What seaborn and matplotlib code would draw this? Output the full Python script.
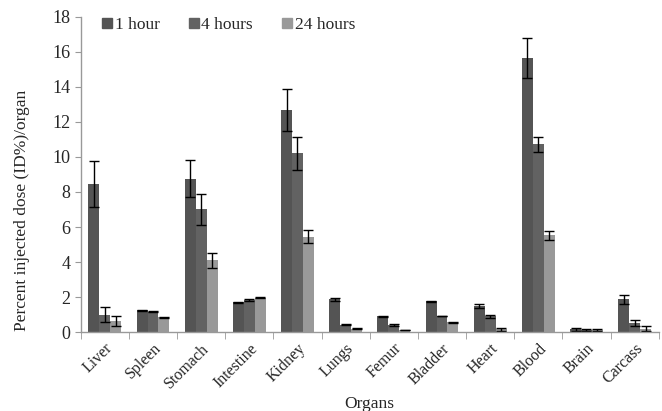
import numpy as np
import pandas as pd
import matplotlib
matplotlib.use("Agg")
import matplotlib.pyplot as plt
import seaborn as sns

organs = ["Liver", "Spleen", "Stomach", "Intestine", "Kidney", "Lungs",
          "Femur", "Bladder", "Heart", "Blood", "Brain", "Carcass"]
series = ["1 hour", "4 hours", "24 hours"]
v1h = [8.45, 1.25, 8.75, 1.70, 12.70, 1.87, 0.90, 1.76, 1.50, 15.65, 0.15, 1.87]
e1h = [1.30, 0.03, 1.05, 0.03, 1.20, 0.08, 0.03, 0.03, 0.12, 1.17, 0.10, 0.27]
v4h = [1.00, 1.15, 7.00, 1.85, 10.20, 0.42, 0.38, 0.92, 0.90, 10.73, 0.12, 0.52]
e4h = [0.45, 0.03, 0.90, 0.05, 0.92, 0.03, 0.06, 0.02, 0.08, 0.42, 0.08, 0.17]
v24h = [0.62, 0.85, 4.10, 1.97, 5.45, 0.20, 0.12, 0.55, 0.15, 5.52, 0.10, 0.20]
e24h = [0.28, 0.02, 0.42, 0.03, 0.38, 0.03, 0.02, 0.02, 0.07, 0.28, 0.06, 0.13]
colors = ["#545454", "#626262", "#999999"]

df = pd.DataFrame({
    "Organ": organs * 3,
    "Time": np.repeat(series, len(organs)),
    "Value": v1h + v4h + v24h,
    "Err": e1h + e4h + e24h,
})

sns.set_style("white")
plt.rcParams["font.family"] = ["Liberation Serif", "DejaVu Serif"]

fig = plt.figure(figsize=(6.62, 4.11), dpi=100)
ax = fig.add_axes([0.122, 0.192, 0.873, 0.767])

sns.barplot(data=df, x="Organ", y="Value", hue="Time", order=organs,
            hue_order=series, palette=colors, width=0.68, errorbar=None,
            saturation=1, ax=ax, linewidth=0)

# error bars at bar centres
for i, s in enumerate(series):
    cont = ax.containers[i]
    xs = [p.get_x() + p.get_width() / 2 for p in cont.patches]
    sub = df[df["Time"] == s]
    ax.errorbar(xs, sub["Value"].values, yerr=sub["Err"].values, fmt="none",
                ecolor="black", elinewidth=1.0, capsize=3.5, capthick=1.0)

ax.set_ylim(0, 18)
ax.set_yticks(np.arange(0, 19, 2))
ax.set_xlim(-0.5, len(organs) - 0.5)
ax.set_xticks(np.arange(len(organs)))
ax.set_xticklabels(organs, rotation=45, ha="right", rotation_mode="anchor", fontsize=11.5)
ax.set_xticks(np.arange(len(organs) + 1) - 0.5, minor=True)
ax.tick_params(axis="x", which="major", length=0, pad=6)
ax.tick_params(axis="x", which="minor", length=5, color="#999999", direction="out", bottom=True)
ax.tick_params(axis="y", length=4, color="#999999", direction="out", left=True, labelsize=13)
for s in ["top", "right"]:
    ax.spines[s].set_visible(False)
for s in ["left", "bottom"]:
    ax.spines[s].set_color("#999999")
    ax.spines[s].set_linewidth(1.0)

ax.set_xlabel("Organs", fontsize=12.5)
ax.xaxis.set_label_coords(0.5, -0.228)
ax.xaxis.label.set_va("center")
ax.set_ylabel("Percent injected dose (ID%)/organ", fontsize=12.5)
ax.yaxis.set_label_coords(-0.102, 0.385)
ax.yaxis.label.set_va("center")

handles = [plt.Line2D([0], [0], marker="s", linestyle="none", markersize=7,
                      markerfacecolor=c, markeredgecolor=c) for c in colors]
ax.legend(handles, series, loc="upper left", ncol=3, frameon=False,
          fontsize=12.5, handletextpad=0.1, handlelength=0.7, columnspacing=1.6,
          bbox_to_anchor=(0.008, 1.05))

fig.savefig("out.png", dpi=100)
